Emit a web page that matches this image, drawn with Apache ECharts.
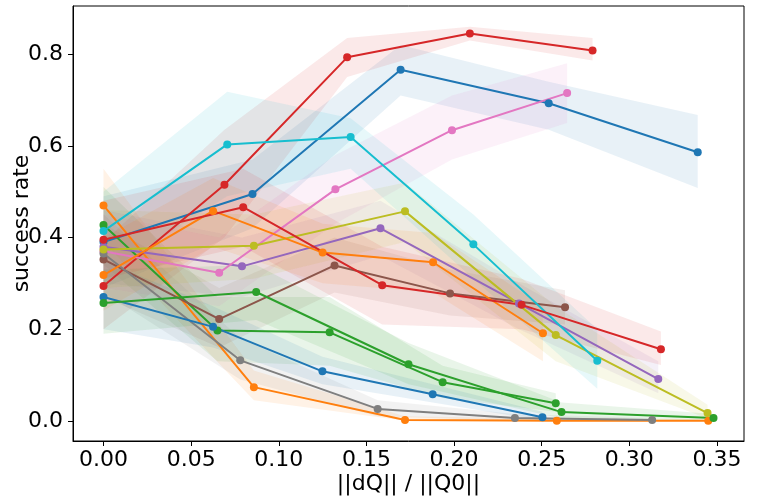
<!DOCTYPE html>
<html>
<head>
<meta charset="utf-8">
<script src="https://cdn.jsdelivr.net/npm/echarts@6/dist/echarts.min.js"></script>
<style>
  html, body { margin: 0; padding: 0; background: #fff; }
  #chart { width: 762px; height: 501px; }
</style>
</head>
<body>
<div id="chart"></div>
<script>
// tab10 cycle, 14 runs
const colors = ["#1f77b4", "#ff7f0e", "#2ca02c", "#d62728", "#9467bd", "#8c564b", "#e377c2",
  "#7f7f7f", "#bcbd22", "#17becf", "#1f77b4", "#ff7f0e", "#2ca02c", "#d62728"];

const runX = [
  [0, 0.085, 0.1695, 0.254, 0.339],
  [0, 0.0858, 0.172, 0.2586, 0.345],
  [0, 0.065, 0.129, 0.1935, 0.258],
  [0, 0.069, 0.139, 0.209, 0.279],
  [0, 0.079, 0.158, 0.237, 0.3165],
  [0, 0.066, 0.1318, 0.1977, 0.2633],
  [0, 0.066, 0.1323, 0.1988, 0.2645],
  [0, 0.078, 0.1564, 0.2347, 0.313],
  [0, 0.0858, 0.172, 0.258, 0.3446],
  [0, 0.0706, 0.141, 0.211, 0.2817],
  [0, 0.0625, 0.1249, 0.1878, 0.2504],
  [0, 0.0625, 0.125, 0.188, 0.2507],
  [0, 0.0871, 0.174, 0.2613, 0.348],
  [0, 0.0797, 0.159, 0.2385, 0.318],
];

const runY = [
  [0.39, 0.495, 0.766, 0.693, 0.586],
  [0.47, 0.0735, 0.002, 0.0, 0.0],
  [0.427, 0.197, 0.193, 0.0843, 0.0385],
  [0.294, 0.515, 0.793, 0.845, 0.808],
  [0.38, 0.337, 0.42, 0.256, 0.091],
  [0.352, 0.222, 0.339, 0.278, 0.248],
  [0.37, 0.323, 0.505, 0.634, 0.715],
  [0.365, 0.132, 0.026, 0.006, 0.002],
  [0.374, 0.382, 0.457, 0.187, 0.017],
  [0.414, 0.603, 0.619, 0.385, 0.131],
  [0.27, 0.205, 0.108, 0.058, 0.008],
  [0.318, 0.458, 0.367, 0.346, 0.191],
  [0.257, 0.281, 0.1235, 0.019, 0.006],
  [0.395, 0.466, 0.296, 0.253, 0.156],
];

const runLo = [
  [0.29, 0.42, 0.71, 0.635, 0.508],
  [0.39, 0.045, 0.0, 0.0, 0.0],
  [0.34, 0.13, 0.12, 0.05, 0.02],
  [0.2, 0.4, 0.75, 0.83, 0.786],
  [0.3, 0.27, 0.36, 0.2, 0.06],
  [0.27, 0.16, 0.28, 0.23, 0.21],
  [0.29, 0.25, 0.43, 0.57, 0.65],
  [0.28, 0.09, 0.01, 0.0, 0.0],
  [0.29, 0.31, 0.39, 0.13, 0.005],
  [0.32, 0.49, 0.55, 0.31, 0.07],
  [0.2, 0.16, 0.08, 0.04, 0.0],
  [0.24, 0.38, 0.3, 0.28, 0.13],
  [0.19, 0.22, 0.08, 0.005, 0.0],
  [0.31, 0.38, 0.21, 0.2, 0.122],
];

const runHi = [
  [0.49, 0.57, 0.82, 0.74, 0.667],
  [0.55, 0.11, 0.01, 0.005, 0.003],
  [0.51, 0.27, 0.27, 0.12, 0.06],
  [0.39, 0.635, 0.835, 0.86, 0.835],
  [0.46, 0.4, 0.48, 0.3, 0.13],
  [0.43, 0.29, 0.4, 0.33, 0.285],
  [0.45, 0.4, 0.58, 0.71, 0.78],
  [0.45, 0.18, 0.045, 0.015, 0.006],
  [0.46, 0.45, 0.52, 0.25, 0.035],
  [0.5, 0.718, 0.66, 0.45, 0.2],
  [0.35, 0.25, 0.14, 0.08, 0.02],
  [0.4, 0.53, 0.43, 0.41, 0.25],
  [0.33, 0.34, 0.17, 0.04, 0.015],
  [0.48, 0.55, 0.38, 0.31, 0.195],
];

const xTicks = [0, 0.05, 0.1, 0.15, 0.2, 0.25, 0.3, 0.35];
const yTicks = [0, 0.2, 0.4, 0.6, 0.8];

const font = "DejaVu Sans";

const rgba = (hex, a) => {
  const n = parseInt(hex.slice(1), 16);
  return `rgba(${(n >> 16) & 255}, ${(n >> 8) & 255}, ${n & 255}, ${a})`;
};

const series = [];

// shaded bands (drawn below all lines, like matplotlib's collections)
runX.forEach((xs, i) => {
  const lo = runLo[i], hi = runHi[i];
  series.push({
    type: "custom",
    silent: true,
    z: 1,
    data: xs.map((x, j) => [x, lo[j], hi[j]]),
    encode: { x: 0, y: [1, 2] },
    renderItem: (params, api) => {
      if (params.dataIndex !== 0) return null;
      const upper = xs.map((x, j) => api.coord([x, hi[j]]));
      const lower = xs.map((x, j) => api.coord([x, lo[j]])).reverse();
      return {
        type: "polygon",
        shape: { points: upper.concat(lower) },
        style: { fill: rgba(colors[i], 0.1) },
      };
    },
  });
});

runX.forEach((xs, i) => {
  series.push({
    type: "line",
    z: 3,
    data: xs.map((x, j) => [x, runY[i][j]]),
    symbol: "circle",
    symbolSize: 8,
    showSymbol: true,
    lineStyle: { width: 2, color: colors[i] },
    itemStyle: { color: colors[i] },
  });
});

const chart = echarts.init(document.getElementById("chart"));

const option = {
  animation: false,
  grid: {
    left: 73, right: 18, top: 6, bottom: 60,
    containLabel: false, outerBoundsMode: "none",
    show: true, borderColor: "#000", borderWidth: 1, backgroundColor: "transparent",
  },
  xAxis: {
    type: "value",
    min: -0.0174,
    max: 0.3654,
    axisLine: { show: true, onZero: false, lineStyle: { color: "#000" } },
    splitLine: { show: false },
    axisTick: { show: true, length: 5, customValues: xTicks, lineStyle: { color: "#000" } },
    axisLabel: {
      customValues: xTicks, formatter: (v) => v.toFixed(2),
      fontSize: 22, color: "#000", fontFamily: font, margin: 8,
    },
    name: "||dQ|| / ||Q0||",
    nameLocation: "middle",
    nameGap: 32,
    nameMoveOverlap: false,
    nameTextStyle: { fontSize: 22, color: "#000", fontFamily: font },
  },
  yAxis: {
    type: "value",
    min: -0.044,
    max: 0.905,
    axisLine: { show: true, onZero: false, lineStyle: { color: "#000" } },
    splitLine: { show: false },
    axisTick: { show: true, length: 5, customValues: yTicks, lineStyle: { color: "#000" } },
    axisLabel: {
      customValues: yTicks, formatter: (v) => v.toFixed(1),
      fontSize: 22, color: "#000", fontFamily: font, margin: 10,
    },
    name: "success rate",
    nameLocation: "middle",
    nameGap: 40,
    nameMoveOverlap: false,
    nameTextStyle: { fontSize: 22, color: "#000", fontFamily: font },
  },
  series: series,
};

chart.setOption(option);
</script>
</body>
</html>
